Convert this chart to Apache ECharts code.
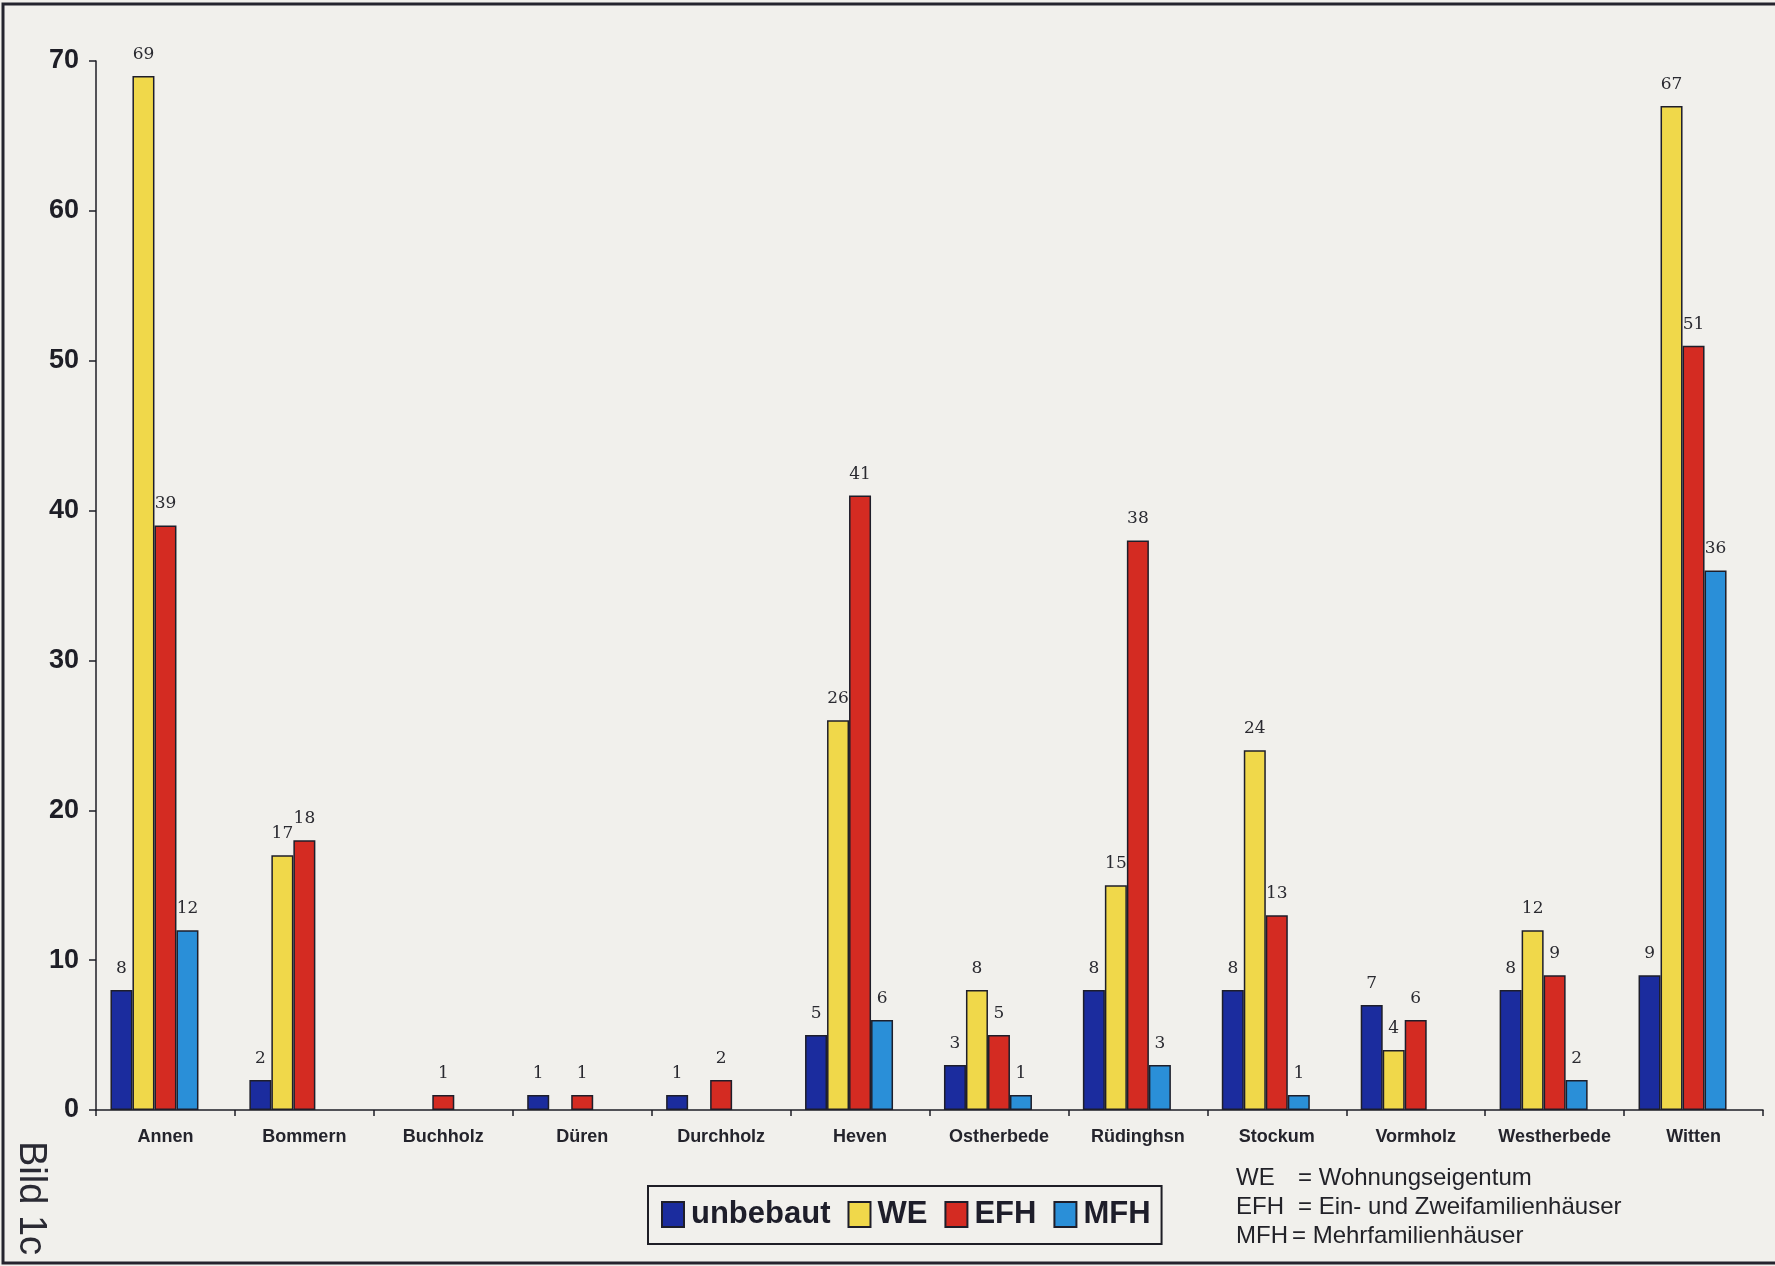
<!DOCTYPE html>
<html>
<head>
<meta charset="utf-8">
<script src="https://cdn.jsdelivr.net/npm/echarts@6/dist/echarts.min.js"></script>
<style>
html,body{margin:0;padding:0;background:#f1f0ec;}
#c{width:1775px;height:1266px;}
</style>
</head>
<body>
<div id="c"></div>
<script>
var categories = ['Annen','Bommern','Buchholz','Düren','Durchholz','Heven','Ostherbede','Rüdinghsn','Stockum','Vormholz','Westherbede','Witten'];
var unbebaut = [8, 2, null, 1, 1, 5, 3, 8, 8, 7, 8, 9];
var WE       = [69, 17, null, null, null, 26, 8, 15, 24, 4, 12, 67];
var EFH      = [39, 18, 1, 1, 2, 41, 5, 38, 13, 6, 9, 51];
var MFH      = [12, null, null, null, null, 6, 1, 3, 1, null, 2, 36];
var yTicks   = [0, 10, 20, 30, 40, 50, 60, 70];
var seriesNames = ['unbebaut','WE','EFH','MFH'];
var notes = [['WE','= Wohnungseigentum'],['EFH','= Ein- und Zweifamilienhäuser'],['MFH','= Mehrfamilienhäuser']];

var colors = ['#1b2c9e','#f0d84a','#d42b22','#2a8fd8'];
var dataSets = [unbebaut, WE, EFH, MFH];

var chart = echarts.init(document.getElementById('c'));
var series = seriesNames.map(function(n,i){
  return {
    name:n, type:'bar', data:dataSets[i], barWidth:22, barGap:'0%',
    itemStyle:{color:colors[i], borderColor:'#1e1e2a', borderWidth:1.5},
    label:{show:true, position:'top', distance:13, fontFamily:'DejaVu Serif', fontSize:17, color:'#2a2a30'}
  };
});
// empty spacer slot (the original leaves a blank fifth position in each group)
series.push({name:'spacer', type:'bar', data:[], barWidth:22, barGap:'0%', silent:true});

var graphics = [
  {type:'rect', shape:{x:3, y:4, width:1810, height:1259}, style:{fill:'none', stroke:'#24242e', lineWidth:3}},
  {type:'text', x:30, y:1141, rotation:-Math.PI/2, style:{text:'Bild 1c', font:'38px "Liberation Sans", Arial, sans-serif', fill:'#2a2a33', textAlign:'left', textVerticalAlign:'middle'}}
];
notes.forEach(function(r,i){
  graphics.push({type:'text', x:1236, y:1178+i*29, style:{text:r[0], font:'24px "Liberation Sans", Arial, sans-serif', fill:'#222228', textVerticalAlign:'middle'}});
  graphics.push({type:'text', x:1298 - (i===2?6:0), y:1178+i*29, style:{text:r[1], font:'24px "Liberation Sans", Arial, sans-serif', fill:'#222228', textVerticalAlign:'middle'}});
});

chart.setOption({
  animation:false,
  backgroundColor:'#f1f0ec',
  grid:{left:96, right:12, top:61, bottom:156, containLabel:false},
  legend:{
    data:seriesNames, left:648, top:1186, orient:'horizontal',
    padding:[13,11,14,13], itemGap:17, itemWidth:22, itemHeight:25,
    borderColor:'#1e1e26', borderWidth:2,
    textStyle:{fontFamily:'"Liberation Sans", Arial, sans-serif', fontWeight:'bold', fontSize:31, color:'#1e1e2a', padding:[0,0,0,2]},
    icon:'rect'
  },
  xAxis:{
    type:'category', data:categories, boundaryGap:true,
    axisLine:{lineStyle:{color:'#1e1e26', width:1.5}},
    axisTick:{show:true, length:6, lineStyle:{color:'#1e1e26', width:1.5}},
    axisLabel:{margin:18, fontFamily:'"Liberation Sans", Arial, sans-serif', fontWeight:'bold', fontSize:18, color:'#24242c', interval:0}
  },
  yAxis:{
    type:'value', min:yTicks[0], max:yTicks[yTicks.length-1], interval:10,
    axisLine:{show:true, lineStyle:{color:'#1e1e26', width:1.5}},
    axisTick:{show:true, length:7, lineStyle:{color:'#1e1e26', width:1.5}},
    splitLine:{show:false},
    axisLabel:{margin:17, fontFamily:'"Liberation Sans", Arial, sans-serif', fontWeight:'bold', fontSize:27, color:'#1e1e26'}
  },
  series:series,
  graphic:graphics
});
</script>
</body>
</html>
